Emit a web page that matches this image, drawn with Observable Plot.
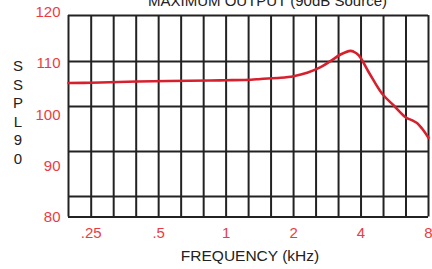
<!DOCTYPE html>
<html>
<head>
<meta charset="utf-8">
<script src="https://cdn.jsdelivr.net/npm/d3@7"></script>
<script src="https://cdn.jsdelivr.net/npm/@observablehq/plot@0.6"></script>
<style>
  html, body { margin: 0; padding: 0; background: #fff; }
  #chart svg { display: block; overflow: visible; }
</style>
</head>
<body>
<div id="chart"></div>
<script>
// Curve data (frequency in kHz, SSPL90 in dB)
const freqKHz = [0.198, 0.25, 0.4, 0.85, 1.0, 1.29, 1.425, 1.75, 2.0, 2.3, 2.64, 2.92, 3.24, 3.59, 3.7, 3.91, 4.33, 4.97, 5.6, 6.32, 6.77, 7.13, 7.5, 8];
const ssplDb  = [106.2, 106.27, 106.5, 106.7, 106.75, 106.86, 107.0, 107.23, 107.54, 108.2, 109.3, 110.47, 111.78, 112.5, 112.35, 111.59, 108.32, 104.1, 101.81, 99.52, 98.9, 98.35, 97.25, 95.49];

// Tick labels
const xTicks = [0.25, 0.5, 1, 2, 4, 8];
const xTickLabels = [".25", ".5", "1", "2", "4", "8"];
const yTicks = [80, 90, 100, 110, 120];

// Chart grid (1/3-octave verticals, horizontal rules as drawn)
const gridX = [0.198, 0.25, 0.315, 0.397, 0.5, 0.63, 0.794, 1, 1.26, 1.587, 2, 2.52, 3.175, 4, 5.04, 6.35, 8];
const gridY = [119.4, 110.4, 101.6, 92.8, 84.0, 80];

const titleText = "MAXIMUM OUTPUT (90dB Source)";
const yLabelText = "S\nS\nP\nL\n9\n0";
const xLabelText = "FREQUENCY (kHz)";

const data = freqKHz.map((f, i) => ({f, db: ssplDb[i]}));
const red = "#ec3b43";
const ink = "#222";

const chart = Plot.plot({
  width: 432,
  height: 269,
  marginLeft: 68,
  marginRight: 4,
  marginTop: 12,
  marginBottom: 52.5,
  style: {fontFamily: "'Liberation Sans', Arial, Helvetica, sans-serif", fontSize: "15px", background: "#fff"},
  x: {type: "log", domain: [gridX[0], gridX[gridX.length - 1]], axis: null},
  y: {domain: [80, 120]},
  marks: [
    Plot.ruleX(gridX, {y1: gridY[gridY.length - 1], y2: gridY[0], stroke: ink, strokeWidth: 2}),
    Plot.ruleY(gridY, {x1: gridX[0], x2: gridX[gridX.length - 1], stroke: ink, strokeWidth: 2}),
    Plot.line(data, {x: "f", y: "db", stroke: "#d7202e", strokeWidth: 2.6, curve: "catmull-rom"}),
    Plot.text(xTicks, {x: (d) => d, text: (d, i) => xTickLabels[i], frameAnchor: "bottom", lineAnchor: "middle", dy: 16, fill: red, fontSize: 15}),
    Plot.axisY({ticks: yTicks, tickSize: 0, tickPadding: 8, color: red, fontSize: 15, label: null}),
    Plot.text([titleText], {frameAnchor: "top", lineAnchor: "middle", dx: 19, dy: -11.3, fill: ink, fontSize: 15}),
    Plot.text([yLabelText], {frameAnchor: "left", lineAnchor: "middle", dx: -50.5, dy: -3.25, textAnchor: "middle", lineHeight: 1.24, fill: ink, fontSize: 15}),
    Plot.text([xLabelText], {frameAnchor: "bottom", lineAnchor: "middle", dx: 1.5, dy: 39.5, fill: ink, fontSize: 15.5})
  ]
});
document.getElementById("chart").appendChild(chart);
</script>
</body>
</html>
